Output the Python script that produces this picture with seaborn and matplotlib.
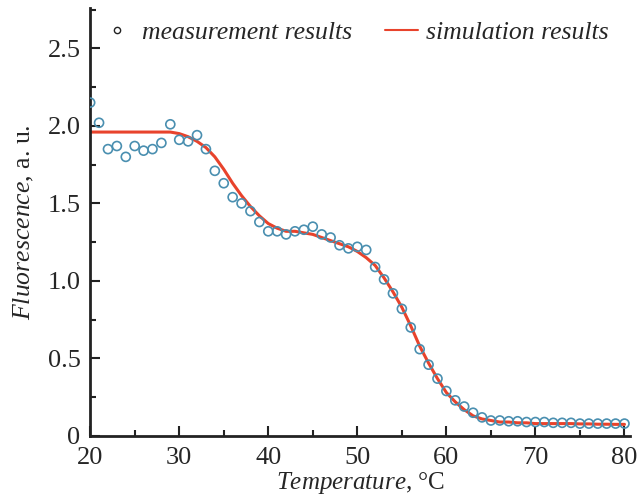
import numpy as np
import pandas as pd
import matplotlib
matplotlib.use("Agg")
import matplotlib.pyplot as plt
from matplotlib.lines import Line2D
from matplotlib.ticker import MultipleLocator, FuncFormatter
import seaborn as sns

# measured points, one per degree
temp = list(range(20, 81))
measured = [2.15, 2.02, 1.85, 1.87, 1.80, 1.87, 1.84, 1.85, 1.89, 2.01,
            1.91, 1.90, 1.94, 1.85, 1.71, 1.63, 1.54, 1.50, 1.45, 1.38,
            1.32, 1.32, 1.30, 1.32, 1.33, 1.35, 1.30, 1.28, 1.23, 1.21,
            1.22, 1.20, 1.09, 1.01, 0.92, 0.82, 0.70, 0.56, 0.46, 0.37,
            0.29, 0.23, 0.19, 0.15, 0.12, 0.10, 0.10, 0.095, 0.095, 0.09,
            0.09, 0.09, 0.085, 0.085, 0.085, 0.08, 0.08, 0.08, 0.08, 0.08, 0.08]
# simulated curve
simulated = [1.96, 1.96, 1.96, 1.96, 1.96, 1.96, 1.96, 1.96, 1.96, 1.96,
             1.95, 1.93, 1.90, 1.86, 1.80, 1.72, 1.63, 1.55, 1.48, 1.42,
             1.37, 1.34, 1.32, 1.32, 1.31, 1.30, 1.28, 1.26, 1.24, 1.22,
             1.19, 1.15, 1.10, 1.02, 0.93, 0.83, 0.71, 0.58, 0.47, 0.37,
             0.28, 0.22, 0.17, 0.13, 0.11, 0.10, 0.09, 0.09, 0.085, 0.085,
             0.08, 0.08, 0.08, 0.08, 0.08, 0.078, 0.078, 0.076, 0.076, 0.075, 0.075]

df = pd.DataFrame({"T": temp, "meas": measured, "sim": simulated})

sns.set_theme(style="ticks")
plt.rcParams['font.family'] = ['Liberation Serif', 'DejaVu Serif']
plt.rcParams['mathtext.fontset'] = 'custom'
plt.rcParams['mathtext.it'] = 'Liberation Serif:italic'
plt.rcParams['mathtext.rm'] = 'Liberation Serif'

red = '#e8432c'
blue = '#4a8fb0'

fig = plt.figure(figsize=(6.44, 5.0), dpi=100)
ax = fig.add_axes([0.14, 0.128, 0.838, 0.856])

sns.lineplot(data=df, x="T", y="sim", ax=ax, color=red, lw=2.2, zorder=2)
sns.scatterplot(data=df, x="T", y="meas", ax=ax, marker='o', s=42,
                facecolor='none', edgecolor=blue, linewidth=1.2, zorder=3)

ax.set_xlim(20, 80.6)
ax.set_ylim(0, 2.76)
ax.xaxis.set_major_locator(MultipleLocator(10))
ax.xaxis.set_minor_locator(MultipleLocator(5))
ax.yaxis.set_major_locator(MultipleLocator(0.5))
ax.yaxis.set_minor_locator(MultipleLocator(0.25))
ax.yaxis.set_major_formatter(FuncFormatter(lambda v, p: '0' if v == 0 else f'{v:.1f}'))
ax.tick_params(which='both', direction='in', width=1.5, labelsize=19, color='#222222')
ax.tick_params(which='major', length=7)
ax.tick_params(which='minor', length=4)
ax.tick_params(axis='x', which='major', pad=8)
ax.tick_params(axis='y', which='major', pad=7)
for s in ['top', 'right']:
    ax.spines[s].set_visible(False)
for s in ['left', 'bottom']:
    ax.spines[s].set_linewidth(2)
    ax.spines[s].set_color('#222222')

ax.set_xlabel(r'$\mathit{Temperature}$, °C', fontsize=18, labelpad=1)
ax.set_ylabel(r'$\mathit{Fluorescence}$, a. u.', fontsize=18.5, labelpad=8)

handles = [Line2D([], [], marker='o', ls='none', markersize=4.5, markerfacecolor='none',
                  markeredgecolor='#222222', markeredgewidth=1),
           Line2D([], [], color=red, lw=1.5)]
ax.legend(handles, ['measurement results', 'simulation results'], ncol=2,
          loc='upper center', bbox_to_anchor=(0.49, 1.0), frameon=False,
          prop={'family': 'Liberation Serif', 'style': 'italic', 'size': 18.5},
          handlelength=1.3, handletextpad=0.3, columnspacing=1.3, borderaxespad=0.1)

fig.savefig("out.png", dpi=100)
